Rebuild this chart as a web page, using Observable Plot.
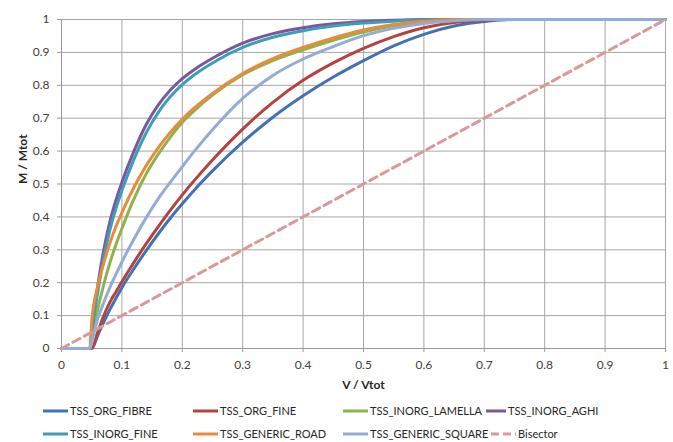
<!DOCTYPE html>
<html>
<head>
<meta charset="utf-8">
<script src="https://cdn.jsdelivr.net/npm/d3@7"></script>
<script src="https://cdn.jsdelivr.net/npm/@observablehq/plot@0.6"></script>
<style>
  body { margin: 0; background: #fff; }
  #wrap { position: relative; width: 673px; height: 442px; font-family: Lato, "Open Sans", sans-serif; }
  #legend { position: relative; width: 673px; height: 47px; }
  .item { position: absolute; display: flex; align-items: center; font-size: 11px; color: #262626; white-space: nowrap; }
  .item svg { margin-right: 2px; }
</style>
</head>
<body>
<div id="wrap"><div id="chart"></div><div id="legend"></div></div>
<script>
// ---- data ----
const seriesNames = ["TSS_ORG_FIBRE", "TSS_ORG_FINE", "TSS_INORG_LAMELLA", "TSS_INORG_AGHI",
  "TSS_INORG_FINE", "TSS_GENERIC_ROAD", "TSS_GENERIC_SQUARE"];
const vtot = [0, 0.047, 0.05, 0.06, 0.07, 0.08, 0.09, 0.1, 0.12, 0.14, 0.16, 0.18, 0.2, 0.22, 0.25,
  0.3, 0.35, 0.4, 0.45, 0.5, 0.55, 0.6, 0.65, 0.7, 0.75, 0.8, 0.9, 1.0];
const orgFibre = [0, 0, 0, 0.04, 0.08, 0.118, 0.152, 0.185, 0.243, 0.297, 0.348, 0.396, 0.44, 0.482, 0.54,
  0.627, 0.703, 0.768, 0.825, 0.875, 0.92, 0.955, 0.98, 0.994, 1, 1, 1, 1];
const orgFine = [0, 0, 0, 0.05, 0.1, 0.14, 0.172, 0.203, 0.262, 0.318, 0.37, 0.42, 0.467, 0.511, 0.573,
  0.667, 0.748, 0.815, 0.868, 0.912, 0.948, 0.975, 0.991, 0.998, 1, 1, 1, 1];
const inorgLamella = [0, 0, 0.03, 0.12, 0.195, 0.26, 0.315, 0.365, 0.455, 0.53, 0.59, 0.642, 0.687, 0.723, 0.77,
  0.832, 0.875, 0.908, 0.937, 0.962, 0.981, 0.993, 0.999, 1, 1, 1, 1, 1];
const inorgAghi = [0, 0, 0.05, 0.19, 0.3, 0.385, 0.45, 0.505, 0.6, 0.68, 0.74, 0.785, 0.82, 0.848, 0.882,
  0.928, 0.957, 0.975, 0.987, 0.994, 0.998, 1, 1, 1, 1, 1, 1, 1];
const inorgFine = [0, 0, 0.05, 0.17, 0.275, 0.36, 0.425, 0.48, 0.575, 0.655, 0.717, 0.765, 0.802, 0.832, 0.868,
  0.915, 0.946, 0.966, 0.98, 0.989, 0.995, 0.999, 1, 1, 1, 1, 1, 1];
const genericRoad = [0, 0, 0.08, 0.19, 0.26, 0.32, 0.37, 0.413, 0.49, 0.555, 0.61, 0.657, 0.697, 0.731, 0.775,
  0.836, 0.881, 0.915, 0.944, 0.968, 0.985, 0.995, 1, 1, 1, 1, 1, 1];
const genericSquare = [0, 0, 0.02, 0.09, 0.14, 0.185, 0.225, 0.263, 0.333, 0.397, 0.455, 0.505, 0.553, 0.6, 0.665,
  0.76, 0.83, 0.88, 0.918, 0.951, 0.973, 0.988, 0.996, 1, 1, 1, 1, 1];
const bisectorX = [0, 1];
const bisectorY = [0, 1];
const xTicks = [0, 0.1, 0.2, 0.3, 0.4, 0.5, 0.6, 0.7, 0.8, 0.9, 1];
const yTicks = [0, 0.1, 0.2, 0.3, 0.4, 0.5, 0.6, 0.7, 0.8, 0.9, 1];
const colors = ["#4472b0", "#b4433f", "#8fb24c", "#77599c", "#3f9db8", "#e98b3c", "#93acd6"];
const bisectorColor = "#d9999a";

// ---- build tidy table ----
const seriesValues = [orgFibre, orgFine, inorgLamella, inorgAghi, inorgFine, genericRoad, genericSquare];
const rows = [];
seriesNames.forEach((name, i) => {
  vtot.forEach((v, j) => rows.push({series: name, v, m: seriesValues[i][j]}));
});
const bisector = bisectorX.map((v, i) => ({v, m: bisectorY[i]}));

const chart = Plot.plot({
  width: 673,
  height: 395,
  marginLeft: 61,
  marginRight: 8,
  marginTop: 19,
  marginBottom: 47,
  style: {fontFamily: "Lato, 'Open Sans', sans-serif", fontSize: "12px", color: "#404040", background: "#fff"},
  x: {domain: [0, 1]},
  y: {domain: [0, 1]},
  color: {domain: seriesNames, range: colors},
  marks: [
    Plot.gridX(xTicks, {stroke: "#a6a6a6", strokeOpacity: 1}),
    Plot.gridY(yTicks, {stroke: "#a6a6a6", strokeOpacity: 1}),
    Plot.axisX({ticks: xTicks, tickFormat: d => String(d), tickSize: 4, tickPadding: 8, stroke: "#999", label: null}),
    Plot.axisY({ticks: yTicks, tickFormat: d => String(d), tickSize: 4, tickPadding: 8, stroke: "#999", label: null}),
    Plot.ruleX([0], {stroke: "#999"}),
    Plot.ruleY([0], {stroke: "#999"}),
    Plot.line(rows, {x: "v", y: "m", z: "series", stroke: "series", strokeWidth: 3, curve: "monotone-x"}),
    Plot.line(bisector, {x: "v", y: "m", stroke: bisectorColor, strokeWidth: 3, strokeDasharray: "8,5"}),
    Plot.text(["V / Vtot"], {frameAnchor: "bottom", dy: 40, fontWeight: "bold", fontSize: 12, fill: "#262626"}),
    Plot.text(["M / Mtot"], {frameAnchor: "left", dx: -38, rotate: -90, fontWeight: "bold", fontSize: 12, fill: "#262626"})
  ]
});
document.getElementById("chart").appendChild(chart);

// ---- legend ----
const legendItems = [
  {name: seriesNames[0], color: colors[0], left: 43, top: 17, w: 25},
  {name: seriesNames[1], color: colors[1], left: 193, top: 17, w: 25},
  {name: seriesNames[2], color: colors[2], left: 343, top: 17, w: 25},
  {name: seriesNames[3], color: colors[3], left: 486, top: 17, w: 20},
  {name: seriesNames[4], color: colors[4], left: 43, top: 40, w: 25},
  {name: seriesNames[5], color: colors[5], left: 193, top: 40, w: 25},
  {name: seriesNames[6], color: colors[6], left: 343, top: 40, w: 25},
  {name: "Bisector", color: bisectorColor, left: 491, top: 40, w: 25, dash: true}
];
const legend = document.getElementById("legend");
legendItems.forEach(it => {
  const d = document.createElement("div");
  d.className = "item";
  d.style.left = it.left + "px";
  d.style.top = (it.top - 8) + "px";
  d.innerHTML = `<svg width="${it.w}" height="6"><line x1="0" y1="3" x2="${it.w}" y2="3" stroke="${it.color}" stroke-width="3" ${it.dash ? 'stroke-dasharray="8,4"' : ''}/></svg><span>${it.name}</span>`;
  legend.appendChild(d);
});
</script>
</body>
</html>
